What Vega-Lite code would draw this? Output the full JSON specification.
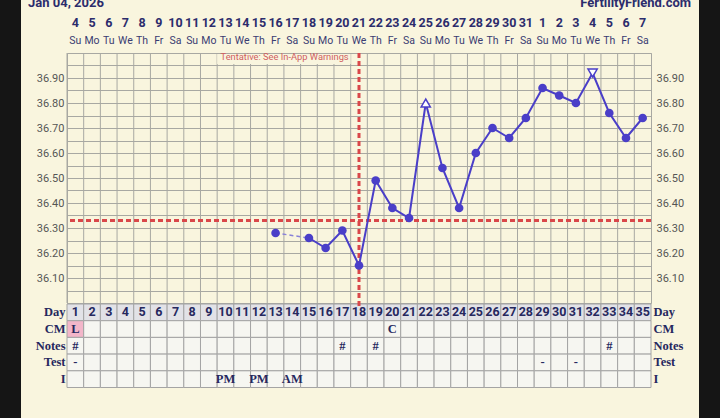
{
  "$schema": "https://vega.github.io/schema/vega-lite/v6.json",
  "width": 584,
  "height": 250,
  "autosize": "none",
  "padding": {"left": 67, "top": 53, "right": 69, "bottom": 115},
  "background": "#f9f5de",
  "config": {
    "view": {"stroke": "#a8a8a2", "fill": "#f9f5de"},
    "font": "Roboto",
    "axis": {"labelOverlap": false, "labelBound": false, "labelFlush": false, "ticks": false, "domain": false, "labelFont": "Roboto"}
  },
  "datasets": {
    "temps": [
      {"day": 13, "temp": 36.28, "kind": "dot"},
      {"day": 15, "temp": 36.26, "kind": "dot"},
      {"day": 16, "temp": 36.22, "kind": "dot"},
      {"day": 17, "temp": 36.29, "kind": "dot"},
      {"day": 18, "temp": 36.15, "kind": "dot"},
      {"day": 19, "temp": 36.49, "kind": "dot"},
      {"day": 20, "temp": 36.38, "kind": "dot"},
      {"day": 21, "temp": 36.34, "kind": "dot"},
      {"day": 22, "temp": 36.80, "kind": "up"},
      {"day": 23, "temp": 36.54, "kind": "dot"},
      {"day": 24, "temp": 36.38, "kind": "dot"},
      {"day": 25, "temp": 36.60, "kind": "dot"},
      {"day": 26, "temp": 36.70, "kind": "dot"},
      {"day": 27, "temp": 36.66, "kind": "dot"},
      {"day": 28, "temp": 36.74, "kind": "dot"},
      {"day": 29, "temp": 36.86, "kind": "dot"},
      {"day": 30, "temp": 36.83, "kind": "dot"},
      {"day": 31, "temp": 36.80, "kind": "dot"},
      {"day": 32, "temp": 36.92, "kind": "down"},
      {"day": 33, "temp": 36.76, "kind": "dot"},
      {"day": 34, "temp": 36.66, "kind": "dot"},
      {"day": 35, "temp": 36.74, "kind": "dot"}
    ],
    "days": [
      {"day": 1, "date": "4", "wd": "Su", "CM": "L", "Notes": "#", "Test": "-"},
      {"day": 2, "date": "5", "wd": "Mo"},
      {"day": 3, "date": "6", "wd": "Tu"},
      {"day": 4, "date": "7", "wd": "We"},
      {"day": 5, "date": "8", "wd": "Th"},
      {"day": 6, "date": "9", "wd": "Fr"},
      {"day": 7, "date": "10", "wd": "Sa"},
      {"day": 8, "date": "11", "wd": "Su"},
      {"day": 9, "date": "12", "wd": "Mo"},
      {"day": 10, "date": "13", "wd": "Tu", "I": "PM"},
      {"day": 11, "date": "14", "wd": "We"},
      {"day": 12, "date": "15", "wd": "Th", "I": "PM"},
      {"day": 13, "date": "16", "wd": "Fr"},
      {"day": 14, "date": "17", "wd": "Sa", "I": "AM"},
      {"day": 15, "date": "18", "wd": "Su"},
      {"day": 16, "date": "19", "wd": "Mo"},
      {"day": 17, "date": "20", "wd": "Tu", "Notes": "#"},
      {"day": 18, "date": "21", "wd": "We"},
      {"day": 19, "date": "22", "wd": "Th", "Notes": "#"},
      {"day": 20, "date": "23", "wd": "Fr", "CM": "C"},
      {"day": 21, "date": "24", "wd": "Sa"},
      {"day": 22, "date": "25", "wd": "Su"},
      {"day": 23, "date": "26", "wd": "Mo"},
      {"day": 24, "date": "27", "wd": "Tu"},
      {"day": 25, "date": "28", "wd": "We"},
      {"day": 26, "date": "29", "wd": "Th"},
      {"day": 27, "date": "30", "wd": "Fr"},
      {"day": 28, "date": "31", "wd": "Sa"},
      {"day": 29, "date": "1", "wd": "Su", "Test": "-"},
      {"day": 30, "date": "2", "wd": "Mo"},
      {"day": 31, "date": "3", "wd": "Tu", "Test": "-"},
      {"day": 32, "date": "4", "wd": "We"},
      {"day": 33, "date": "5", "wd": "Th", "Notes": "#"},
      {"day": 34, "date": "6", "wd": "Fr"},
      {"day": 35, "date": "7", "wd": "Sa"}
    ]
  },
  "layer": [
    {
      "data": {"name": "days"},
      "layer": [
        {
          "mark": {"type": "rule", "color": "#a8a8a2", "strokeWidth": 1},
          "encoding": {
            "x": {"field": "day", "type": "ordinal", "bandPosition": 0, "scale": {"type": "band", "domain": [1,2,3,4,5,6,7,8,9,10,11,12,13,14,15,16,17,18,19,20,21,22,23,24,25,26,27,28,29,30,31,32,33,34,35], "paddingInner": 0, "paddingOuter": 0}, "axis": null}
          }
        },
        {
          "mark": {"type": "rect", "fill": "#e2e2e7", "stroke": "#a4a4a4", "strokeWidth": 1},
          "encoding": {
            "x": {"field": "day", "type": "ordinal", "scale": {"type": "band", "domain": [1,2,3,4,5,6,7,8,9,10,11,12,13,14,15,16,17,18,19,20,21,22,23,24,25,26,27,28,29,30,31,32,33,34,35], "paddingInner": 0, "paddingOuter": 0}, "axis": null},
            "y": {"datum": "Day", "type": "nominal", "scale": {"type": "band", "domain": ["Day", "CM", "Notes", "Test", "I"], "range": [251, 334.5], "paddingInner": 0, "paddingOuter": 0},
              "axis": {"orient": "left", "labelPadding": 2, "labelFont": "Liberation Serif", "labelFontWeight": "bold", "labelFontSize": 12.5, "labelColor": "#26285e", "grid": false, "title": null}}
          }
        },
        {
          "transform": [{"fold": ["CM", "Notes", "Test", "I"], "as": ["row", "val"]}],
          "mark": {"type": "rect", "stroke": "#a4a4a4", "strokeWidth": 1},
          "encoding": {
            "x": {"field": "day", "type": "ordinal", "scale": {"type": "band", "domain": [1,2,3,4,5,6,7,8,9,10,11,12,13,14,15,16,17,18,19,20,21,22,23,24,25,26,27,28,29,30,31,32,33,34,35], "paddingInner": 0, "paddingOuter": 0}, "axis": null},
            "y": {"field": "row", "type": "nominal", "scale": {"type": "band", "domain": ["Day", "CM", "Notes", "Test", "I"], "range": [251, 334.5], "paddingInner": 0, "paddingOuter": 0}, "axis": null},
            "fill": {"condition": {"test": "datum.val === 'L'", "value": "#f3b6c9"}, "value": "#f6f6f1"}
          }
        },
        {
          "mark": {"type": "text", "font": "Roboto", "fontWeight": "bold", "fontSize": 12.5, "color": "#26285e"},
          "encoding": {
            "x": {"field": "day", "type": "ordinal", "scale": {"type": "band", "domain": [1,2,3,4,5,6,7,8,9,10,11,12,13,14,15,16,17,18,19,20,21,22,23,24,25,26,27,28,29,30,31,32,33,34,35], "paddingInner": 0, "paddingOuter": 0}, "axis": null},
            "y": {"datum": "Day", "type": "nominal", "scale": {"type": "band", "domain": ["Day", "CM", "Notes", "Test", "I"], "range": [251, 334.5], "paddingInner": 0, "paddingOuter": 0}, "axis": null},
            "text": {"field": "day", "type": "nominal"}
          }
        },
        {
          "transform": [{"fold": ["CM", "Notes", "Test", "I"], "as": ["row", "val"]}, {"filter": "isValid(datum.val) && datum.val !== ''"}],
          "mark": {"type": "text", "font": "Liberation Serif", "fontWeight": "bold", "fontSize": 12.5, "color": "#26285e"},
          "encoding": {
            "x": {"field": "day", "type": "ordinal", "scale": {"type": "band", "domain": [1,2,3,4,5,6,7,8,9,10,11,12,13,14,15,16,17,18,19,20,21,22,23,24,25,26,27,28,29,30,31,32,33,34,35], "paddingInner": 0, "paddingOuter": 0}, "axis": null},
            "y": {"field": "row", "type": "nominal", "scale": {"type": "band", "domain": ["Day", "CM", "Notes", "Test", "I"], "range": [251, 334.5], "paddingInner": 0, "paddingOuter": 0},
              "axis": {"orient": "right", "labelPadding": 2, "labelFont": "Liberation Serif", "labelFontWeight": "bold", "labelFontSize": 12.5, "labelColor": "#26285e", "grid": false, "title": null}},
            "text": {"field": "val", "type": "nominal"}
          }
        }
      ],
      "resolve": {"axis": {"y": "independent"}}
    },
    {
      "data": {"name": "days"},
      "layer": [
        {
          "mark": {"type": "text", "fontWeight": "bold", "fontSize": 12.5, "color": "#2c2c6c"},
          "encoding": {
            "x": {"field": "day", "type": "quantitative", "scale": {"domain": [0.5, 35.5], "nice": false, "zero": false}, "axis": null},
            "y": {"datum": "date", "type": "nominal", "scale": {"type": "point", "domain": ["date", "wd"], "range": [-30, -12.5], "padding": 0},
              "axis": {"orient": "left", "labelExpr": "datum.value === 'date' ? 'Date' : ''", "labelPadding": 4, "labelOffset": 4, "labelFontWeight": "bold", "labelFontSize": 12, "labelColor": "#2c2c6c", "grid": false, "title": null}},
            "text": {"field": "date", "type": "nominal"}
          }
        },
        {
          "mark": {"type": "text", "fontSize": 10.5, "color": "#3a3c72"},
          "encoding": {
            "x": {"field": "day", "type": "quantitative", "scale": {"domain": [0.5, 35.5], "nice": false, "zero": false}, "axis": null},
            "y": {"datum": "wd", "type": "nominal", "scale": {"type": "point", "domain": ["date", "wd"], "range": [-30, -12.5], "padding": 0}, "axis": null},
            "text": {"field": "wd", "type": "nominal"}
          }
        },
        {
          "data": {"values": [{"t": "Jan 04, 2026"}]},
          "mark": {"type": "text", "align": "left", "dx": -39, "dy": -20, "fontWeight": "bold", "fontSize": 13, "color": "#2c2c6c"},
          "encoding": {
            "x": {"datum": 0.5, "type": "quantitative", "scale": {"domain": [0.5, 35.5], "nice": false, "zero": false}, "axis": null},
            "y": {"datum": "date", "type": "nominal", "scale": {"type": "point", "domain": ["date", "wd"], "range": [-30, -12.5], "padding": 0}, "axis": null},
            "text": {"field": "t", "type": "nominal"}
          }
        },
        {
          "data": {"values": [{"t": "FertilityFriend.com"}]},
          "mark": {"type": "text", "align": "right", "dx": 40, "dy": -20, "fontWeight": "bold", "fontSize": 13, "color": "#2c2c6c"},
          "encoding": {
            "x": {"datum": 35.5, "type": "quantitative", "scale": {"domain": [0.5, 35.5], "nice": false, "zero": false}, "axis": null},
            "y": {"datum": "date", "type": "nominal", "scale": {"type": "point", "domain": ["date", "wd"], "range": [-30, -12.5], "padding": 0}, "axis": null},
            "text": {"field": "t", "type": "nominal"}
          }
        }
      ]
    },
    {
      "data": {"name": "temps"},
      "layer": [
        {
          "data": {"values": [{}]},
          "mark": {"type": "rect", "color": "#151515", "xOffset": -67, "x2Offset": -46, "yOffset": -53, "y2Offset": 115},
          "encoding": {
            "x": {"datum": 0.5, "type": "quantitative", "scale": {"domain": [0.5, 35.5], "nice": false, "zero": false}, "axis": null},
            "x2": {"datum": 0.5},
            "y": {"datum": 37, "type": "quantitative", "scale": {"domain": [36, 37], "nice": false, "zero": false}, "axis": null},
            "y2": {"datum": 36}
          }
        },
        {
          "data": {"values": [{}]},
          "mark": {"type": "rect", "color": "#151515", "xOffset": 48, "x2Offset": 69, "yOffset": -53, "y2Offset": 115},
          "encoding": {
            "x": {"datum": 35.5, "type": "quantitative", "scale": {"domain": [0.5, 35.5], "nice": false, "zero": false}, "axis": null},
            "x2": {"datum": 35.5},
            "y": {"datum": 37, "type": "quantitative", "scale": {"domain": [36, 37], "nice": false, "zero": false}, "axis": null},
            "y2": {"datum": 36}
          }
        },
        {
          "data": {"values": [{}]},
          "mark": {"type": "rect", "color": "#f9f5de"},
          "encoding": {
            "x": {"datum": 9.5, "type": "quantitative", "scale": {"domain": [0.5, 35.5], "nice": false, "zero": false}, "axis": null},
            "x2": {"datum": 17.5},
            "y": {"datum": 36.996, "type": "quantitative", "scale": {"domain": [36, 37], "nice": false, "zero": false}, "axis": null},
            "y2": {"datum": 36.956}
          }
        },
        {
          "data": {"values": [{"t": "Tentative: See In-App Warnings"}]},
          "mark": {"type": "text", "align": "right", "dx": -2, "fontSize": 9.3, "color": "#d0605e"},
          "encoding": {
            "x": {"datum": 17.5, "type": "quantitative", "scale": {"domain": [0.5, 35.5], "nice": false, "zero": false}, "axis": null},
            "y": {"datum": 36.983, "type": "quantitative", "scale": {"domain": [36, 37], "nice": false, "zero": false}, "axis": null},
            "text": {"field": "t", "type": "nominal"}
          }
        },
        {
          "data": {"values": [{}]},
          "mark": {"type": "rule", "color": "#d9474a", "strokeWidth": 3, "strokeDash": [5, 3]},
          "encoding": {
            "y": {"datum": 36.33, "type": "quantitative", "scale": {"domain": [36, 37], "nice": false, "zero": false}, "axis": null}
          }
        },
        {
          "data": {"values": [{}]},
          "mark": {"type": "rule", "color": "#d9474a", "strokeWidth": 3, "strokeDash": [5, 3]},
          "encoding": {
            "x": {"datum": 18, "type": "quantitative", "scale": {"domain": [0.5, 35.5], "nice": false, "zero": false}, "axis": null},
            "y": {"datum": 37, "type": "quantitative", "scale": {"domain": [36, 37], "nice": false, "zero": false}, "axis": null},
            "y2": {"datum": 35.988}
          }
        },
        {
          "transform": [{"filter": "datum.day <= 15"}],
          "mark": {"type": "line", "color": "#8a82d8", "strokeWidth": 1.5, "strokeDash": [4, 3]},
          "encoding": {
            "x": {"field": "day", "type": "quantitative", "scale": {"domain": [0.5, 35.5], "nice": false, "zero": false}, "axis": null},
            "y": {"field": "temp", "type": "quantitative", "scale": {"domain": [36, 37], "nice": false, "zero": false},
              "axis": {"orient": "right", "values": [36, 36.05, 36.1, 36.15, 36.2, 36.25, 36.3, 36.35, 36.4, 36.45, 36.5, 36.55, 36.6, 36.65, 36.7, 36.75, 36.8, 36.85, 36.9, 36.95, 37],
                "labelExpr": "(datum.value > 36.05 && datum.value < 36.95 && abs(datum.value * 10 - round(datum.value * 10)) < 0.01) ? format(datum.value, '.2f') : ''",
                "labelPadding": 5, "labelFontSize": 11, "labelColor": "#555555", "grid": false, "title": null}}
          }
        },
        {
          "transform": [{"filter": "datum.day >= 15"}],
          "mark": {"type": "line", "color": "#4a3ec8", "strokeWidth": 2},
          "encoding": {
            "x": {"field": "day", "type": "quantitative", "scale": {"domain": [0.5, 35.5], "nice": false, "zero": false}, "axis": null},
            "y": {"field": "temp", "type": "quantitative", "scale": {"domain": [36, 37], "nice": false, "zero": false},
              "axis": {"orient": "left", "values": [36, 36.05, 36.1, 36.15, 36.2, 36.25, 36.3, 36.35, 36.4, 36.45, 36.5, 36.55, 36.6, 36.65, 36.7, 36.75, 36.8, 36.85, 36.9, 36.95, 37],
                "labelExpr": "(datum.value > 36.05 && datum.value < 36.95 && abs(datum.value * 10 - round(datum.value * 10)) < 0.01) ? format(datum.value, '.2f') : ''",
                "labelPadding": 3, "labelFontSize": 11, "labelColor": "#555555", "grid": true, "gridColor": "#a8a8a2", "gridWidth": 1, "title": null}}
          }
        },
        {
          "transform": [{"filter": "datum.kind === 'dot'"}],
          "mark": {"type": "point", "filled": true, "size": 75, "color": "#4a3ec8", "opacity": 1},
          "encoding": {
            "x": {"field": "day", "type": "quantitative", "scale": {"domain": [0.5, 35.5], "nice": false, "zero": false}, "axis": null},
            "y": {"field": "temp", "type": "quantitative", "scale": {"domain": [36, 37], "nice": false, "zero": false}, "axis": null}
          }
        },
        {
          "transform": [{"filter": "datum.kind !== 'dot'"}],
          "mark": {"type": "point", "filled": true, "fill": "#ffffff", "stroke": "#4a3ec8", "strokeWidth": 1.5, "size": 85, "opacity": 1},
          "encoding": {
            "x": {"field": "day", "type": "quantitative", "scale": {"domain": [0.5, 35.5], "nice": false, "zero": false}, "axis": null},
            "y": {"field": "temp", "type": "quantitative", "scale": {"domain": [36, 37], "nice": false, "zero": false}, "axis": null},
            "shape": {"field": "kind", "type": "nominal", "scale": {"domain": ["up", "down"], "range": ["triangle-up", "triangle-down"]}, "legend": null}
          }
        }
      ],
      "resolve": {"axis": {"y": "independent"}}
    }
  ],
  "resolve": {"scale": {"x": "independent", "y": "independent"}, "axis": {"x": "independent", "y": "independent"}}
}
